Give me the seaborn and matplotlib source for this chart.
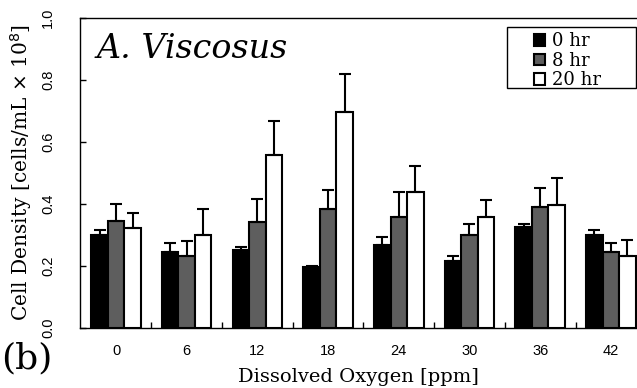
import pandas as pd
import numpy as np
import matplotlib.pyplot as plt
from matplotlib.patches import Rectangle
import seaborn as sns

# ==========================================================
# DATA
# ==========================================================

oxygen = ["0", "6", "12", "18", "24", "30", "36", "42"]
times = ["0 hr", "8 hr", "20 hr"]

density_0hr = [0.298, 0.244, 0.251, 0.195, 0.268, 0.214, 0.324, 0.298]
density_8hr = [0.346, 0.230, 0.340, 0.383, 0.359, 0.298, 0.389, 0.243]
density_20hr = [0.322, 0.298, 0.559, 0.695, 0.438, 0.359, 0.396, 0.230]

# top of the error bar (mean + sd)
errtop_0hr = [0.316, 0.274, 0.262, 0.198, 0.292, 0.230, 0.334, 0.316]
errtop_8hr = [0.401, 0.279, 0.414, 0.444, 0.438, 0.334, 0.451, 0.273]
errtop_20hr = [0.370, 0.383, 0.669, 0.820, 0.522, 0.413, 0.482, 0.284]

bar_colors = ["#000000", "#5e5e5e", "#ffffff"]

# ==========================================================
# BUILD TABLE
# ==========================================================

rows = []
for t, vals, tops in zip(
    times,
    [density_0hr, density_8hr, density_20hr],
    [errtop_0hr, errtop_8hr, errtop_20hr],
):
    for o, v, e in zip(oxygen, vals, tops):
        rows.append({"oxygen": o, "time": t, "density": v, "err": e - v})

df = pd.DataFrame(rows)

# ==========================================================
# PLOT
# ==========================================================

sns.set_theme(
    style="white",
    rc={
        "text.color": "black",
        "axes.labelcolor": "black",
        "xtick.color": "black",
        "ytick.color": "black",
    },
)
serif = ["DejaVu Serif"]
sans = ["Liberation Sans", "DejaVu Sans"]

fig = plt.figure(figsize=(6.37, 3.88), dpi=100)
ax = fig.add_axes([80 / 637, 1 - 327.7 / 388, 557 / 637, 309.7 / 388])

sns.barplot(
    data=df,
    x="oxygen",
    y="density",
    hue="time",
    order=oxygen,
    hue_order=times,
    palette=bar_colors,
    edgecolor="black",
    linewidth=1.5,
    errorbar=None,
    width=0.7,
    gap=0,
    ax=ax,
)

# one-sided error bars on top of each bar
for container, t in zip(ax.containers, times):
    sub = df[df["time"] == t].set_index("oxygen").loc[oxygen]
    for patch, err in zip(container.patches, sub["err"]):
        xc = patch.get_x() + patch.get_width() / 2
        h = patch.get_height()
        ax.errorbar(
            xc, h,
            yerr=[[0], [err]],
            fmt="none",
            ecolor="black",
            elinewidth=1.5,
            capsize=4.5,
            capthick=1.5,
            zorder=1,
        )

ax.set_ylim(0, 1.0)
ax.set_xlim(-0.51, 7.37)
ax.set_yticks([0, 0.2, 0.4, 0.6, 0.8, 1.0])
ax.set_yticklabels(["0.0", "0.2", "0.4", "0.6", "0.8", "1.0"],
                   rotation=90, va="center", family=sans, fontsize=10.5)
ax.set_xticks(range(len(oxygen)))
ax.set_xticklabels(oxygen, family=sans, fontsize=10.5)

# inward ticks: y at values, x at group boundaries
ax.tick_params(axis="y", direction="in", length=4, width=1, pad=18, left=True)
ax.tick_params(axis="x", length=0, pad=12)
ax.set_xticks(np.arange(0.5, len(oxygen) - 0.5), minor=True)
ax.tick_params(axis="x", which="minor", direction="in", length=4, width=1, bottom=True)

for s in ["left", "top", "bottom"]:
    ax.spines[s].set_color("black")
    ax.spines[s].set_linewidth(1)
ax.spines["right"].set_visible(False)

ax.set_ylabel(r"Cell Density [cells/mL $\times$ 10$^8$]",
              family=serif, fontsize=14.5, labelpad=5)
ax.set_xlabel("Dissolved Oxygen [ppm]", family=serif, fontsize=14, labelpad=7)

ax.text(0.03, 0.9, "A. Viscosus", transform=ax.transAxes,
        family=serif, style="italic", fontsize=24, va="center")

fig.text(0.002, 0.075, "(b)", family=serif, fontsize=26, va="center")

# legend box (wide frame as in the original)
ax.add_patch(Rectangle((0.7666, 0.774), 0.2316, 0.197, transform=ax.transAxes,
                       facecolor="white", edgecolor="black", linewidth=1,
                       zorder=4, clip_on=False))

leg = ax.legend(
    loc="center",
    bbox_to_anchor=(0.876, 0.862),
    prop={"family": "DejaVu Serif", "size": 13},
    frameon=False,
    handlelength=0.6,
    handleheight=0.6,
    handletextpad=0.4,
    labelspacing=0.08,
    borderpad=0.0,
)
leg.set_zorder(5)
leg.set_title(None)

plt.savefig("out.png", dpi=100)
plt.close()
